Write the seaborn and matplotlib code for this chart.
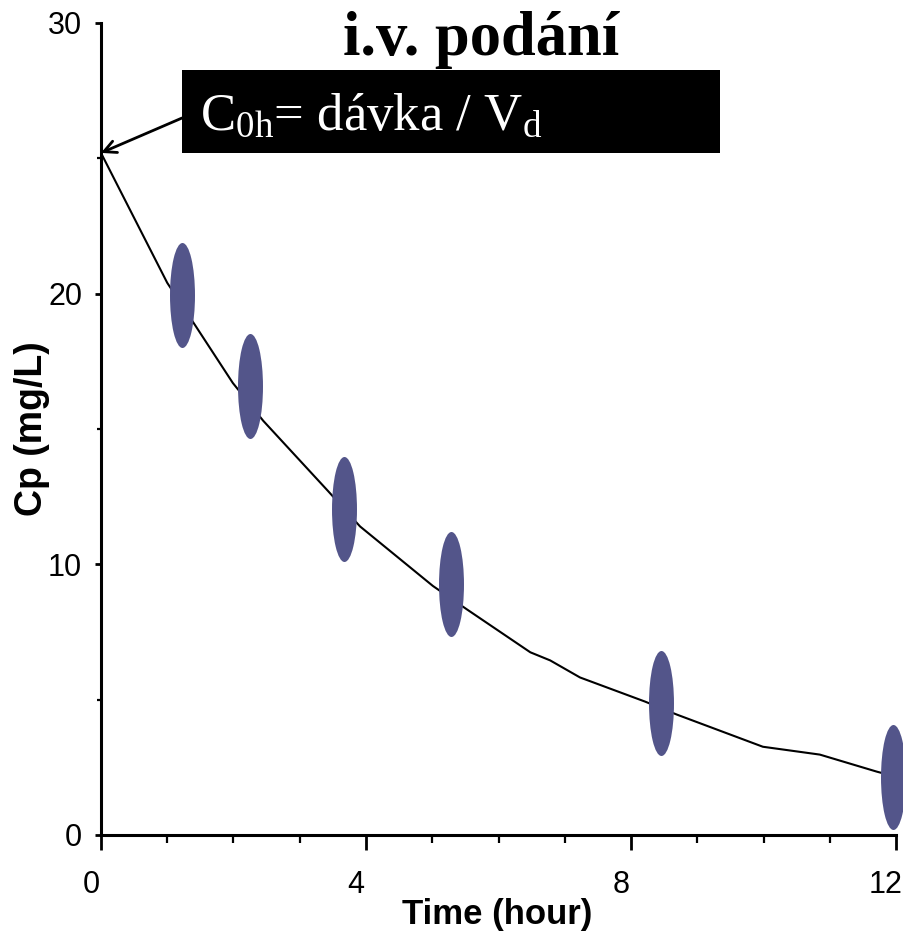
import numpy as np
import pandas as pd
import matplotlib
matplotlib.use("Agg")
import matplotlib.pyplot as plt
import seaborn as sns
from matplotlib.path import Path
from matplotlib.transforms import Affine2D, ScaledTranslation
from matplotlib.patches import Rectangle

# ---- data ----
curve_time = [0.0, 1.0, 1.43, 1.99, 2.45, 3.43, 3.91, 5.01, 5.52, 6.48, 6.78,
              7.23, 8.21, 8.69, 9.99, 10.85, 11.71, 12.0]
curve_conc = [25.2, 20.4, 18.8, 16.7, 15.3, 12.7, 11.4, 9.2, 8.34, 6.75, 6.45,
              5.82, 4.93, 4.45, 3.26, 2.97, 2.34, 2.15]
sample_time = [1.22, 2.25, 3.67, 5.28, 8.45, 11.95]
sample_conc = [19.95, 16.57, 12.05, 9.27, 4.86, 2.15]
x_major = [0, 4, 8, 12]
x_minor = [1, 2, 3, 5, 6, 7, 9, 10, 11]
y_major = [0, 10, 20, 30]
y_minor = [5, 15, 25]
c0 = 25.2

title_text = "i.v. podání"
box_text = r"C$_{\mathrm{0h}}$= dávka / V$_{\mathrm{d}}$"
xlabel_text = "Time (hour)"
ylabel_text = "Cp (mg/L)"

sns.set_theme(style="white")
plt.rcParams["font.family"] = ["Liberation Sans", "DejaVu Sans"]
plt.rcParams["mathtext.fontset"] = "custom"
plt.rcParams["mathtext.rm"] = "Liberation Serif"
plt.rcParams["mathtext.it"] = "Liberation Serif:italic"
plt.rcParams["mathtext.bf"] = "Liberation Serif:bold"

fig = plt.figure(figsize=(9.04, 9.42), dpi=100)
ax = fig.add_axes([0.1117, 0.1136, 0.8795, 0.862])

curve = pd.DataFrame({"t": curve_time, "c": curve_conc})
samples = pd.DataFrame({"t": sample_time, "c": sample_conc})

sns.lineplot(data=curve, x="t", y="c", color="black", lw=1.5, ax=ax,
             estimator=None, sort=False, zorder=2)
ellipse = Path.unit_circle().transformed(Affine2D().scale(0.238, 1.0))
sns.scatterplot(data=samples, x="t", y="c", marker=ellipse, s=75.6 ** 2,
                color="#53558A", linewidth=0, ax=ax, zorder=3, clip_on=False)

ax.set_xlim(0, 12)
ax.set_ylim(0, 30)
ax.set_xticks(x_major)
ax.set_xticks(x_minor, minor=True)
ax.set_yticks(y_major)
ax.set_yticks(y_minor, minor=True)
ax.set_xticklabels([str(v) for v in x_major])
ax.set_yticklabels([str(v) for v in y_major])

sns.despine(ax=ax)
for s in ["left", "bottom"]:
    ax.spines[s].set_linewidth(2.2)
    ax.spines[s].set_color("black")

ax.tick_params(axis="x", which="major", direction="out", length=10.8, width=2,
               labelsize=22, pad=14.5, bottom=True, color="black", labelcolor="black")
ax.tick_params(axis="x", which="minor", direction="out", length=5.8, width=1.6,
               bottom=True, color="black")
ax.tick_params(axis="y", which="major", direction="out", length=4.5, width=2,
               labelsize=22, pad=9, left=True, color="black", labelcolor="black")
ax.tick_params(axis="y", which="minor", direction="out", length=3, width=1.6,
               left=True, color="black")

for lab in ax.get_xticklabels():
    lab.set_transform(lab.get_transform() + ScaledTranslation(-0.10, 0, fig.dpi_scale_trans))

lab_font = ["Liberation Sans Narrow", "Liberation Sans", "DejaVu Sans"]
ax.set_xlabel(xlabel_text, fontsize=25, fontweight="bold", family=lab_font, color="black")
ax.set_ylabel(ylabel_text, fontsize=27, fontweight="bold", family=lab_font, color="black")
ax.xaxis.label.set_va("center")
ax.xaxis.set_label_coords(0.498, -0.0985)
ax.yaxis.label.set_va("center")
ax.yaxis.label.set_ha("center")
ax.yaxis.set_label_coords(-0.0868, 0.501)

# title
fig.text(0.532, 0.9416, title_text, ha="center", va="baseline",
         fontsize=45, fontweight="bold", family=["Liberation Serif", "DejaVu Serif"],
         color="black")

# black box with formula
box = Rectangle((0.2013, 0.8376), 0.595, 0.0881, transform=fig.transFigure,
                facecolor="black", edgecolor="none", zorder=10)
fig.patches.append(box)
fig.text(0.221, 0.862, box_text, ha="left", va="baseline", fontsize=38,
         family=["Liberation Serif", "DejaVu Serif"], color="white", zorder=11)

# arrow from box to C0
ax.annotate("", xy=(0, c0), xycoords="data",
            xytext=(0.2013, 0.8747), textcoords="figure fraction",
            arrowprops=dict(arrowstyle="->", color="black", lw=2,
                            mutation_scale=22, shrinkA=0, shrinkB=0),
            annotation_clip=False, zorder=9)

fig.savefig("out.png", dpi=100)
